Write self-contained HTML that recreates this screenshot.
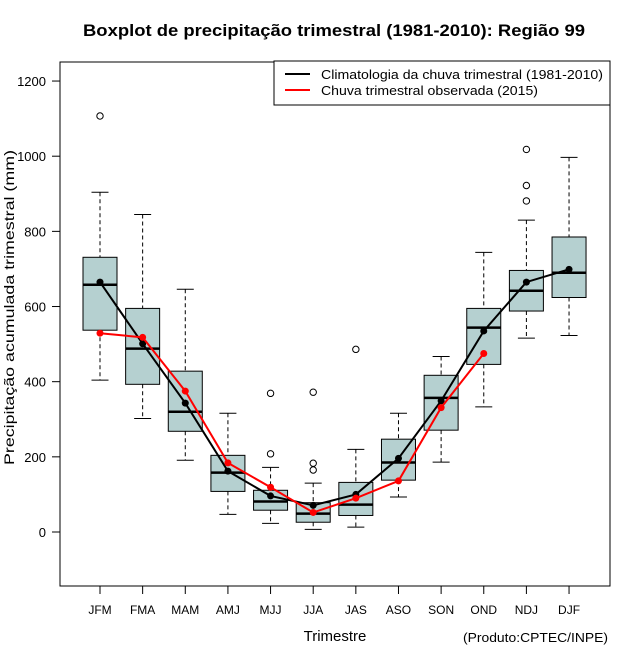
<!DOCTYPE html>
<html><head><meta charset="utf-8"><style>
body{margin:0;background:#fff;}
svg{display:block;font-family:"Liberation Sans",Arial,sans-serif;}
</style></head><body>
<svg id="chart" width="640" height="660" xmlns="http://www.w3.org/2000/svg">
<rect width="640" height="660" fill="#fff"/>
<text x="83" y="36" font-size="17" font-weight="bold" textLength="502" lengthAdjust="spacingAndGlyphs">Boxplot de precipitação trimestral (1981-2010): Região 99</text>
<rect x="60" y="62" width="550" height="524" fill="none" stroke="#000"/>
<g id="yaxis"></g>
<g id="xaxis"></g>
<g id="boxes"></g>
<g id="lines"></g>
<text x="335" y="641" text-anchor="middle" font-size="15">Trimestre</text>
<text transform="translate(14,465) rotate(-90)" font-size="14" textLength="315" lengthAdjust="spacingAndGlyphs">Precipitação acumulada trimestral (mm)</text>
<text x="463" y="642" font-size="13" textLength="145" lengthAdjust="spacingAndGlyphs">(Produto:CPTEC/INPE)</text>
<g>
<rect x="274" y="61" width="336" height="44" fill="#fff" stroke="#000"/>
<line x1="285" y1="74" x2="310" y2="74" stroke="#000" stroke-width="2"/>
<text x="321" y="79" font-size="13" textLength="282" lengthAdjust="spacingAndGlyphs">Climatologia da chuva trimestral (1981-2010)</text>
<line x1="285" y1="90" x2="310" y2="90" stroke="#f00" stroke-width="2"/>
<text x="321" y="95" font-size="13" textLength="217" lengthAdjust="spacingAndGlyphs">Chuva trimestral observada (2015)</text>
</g>
</svg>
<script>
const categories=["JFM","FMA","MAM","AMJ","MJJ","JJA","JAS","ASO","SON","OND","NDJ","DJF"];
const whiskerLow=[404,302,191,47,23,7,13,93,186,333,516,523];
const q1=[537,393,268,108,58,26,44,138,271,446,588,624];
const medians=[658,488,320,158,81,49,73,185,357,544,642,690];
const q3=[731,595,428,204,111,78,132,247,417,595,696,785];
const whiskerHigh=[904,845,646,316,172,130,220,316,467,744,830,997];
const outliers=[[1107],[],[],[],[369,208],[372,183,165],[486],[],[],[],[1018,922,881],[]];
const climMean=[665,501,343,162,96,71,100,196,349,535,665,699];
const observed=[529,518,375,184,119,52,90,136,331,475];
const yTicks=[0,200,400,600,800,1000,1200];
const NS="http://www.w3.org/2000/svg";
function xs(i){return 100+i*42.64;}
function ys(v){return 532-v*0.3758;}
function mk(tag,attrs,parent){const e=document.createElementNS(NS,tag);for(const k in attrs)e.setAttribute(k,attrs[k]);parent.appendChild(e);return e;}
const ya=document.getElementById('yaxis'),xa=document.getElementById('xaxis'),bx=document.getElementById('boxes'),ln=document.getElementById('lines');
yTicks.forEach(t=>{const y=ys(t);
const l=mk('line',{x1:52,x2:60,y1:y,y2:y,stroke:'#000'},ya);


const tx=mk('text',{x:46,y:y+5,'text-anchor':'end','font-size':13},ya);tx.textContent=t;

});
categories.forEach((c,i)=>{const x=xs(i);
const l=mk('line',{x1:x,x2:x,y1:586,y2:594,stroke:'#000'},xa);


const tx=mk('text',{x:x,y:614,'text-anchor':'middle','font-size':12},xa);tx.textContent=c;


const g=mk('g',{},bx);


mk('line',{x1:x,x2:x,y1:ys(whiskerHigh[i]),y2:ys(q3[i]),stroke:'#000','stroke-dasharray':'4,3'},g);
mk('line',{x1:x,x2:x,y1:ys(q1[i]),y2:ys(whiskerLow[i]),stroke:'#000','stroke-dasharray':'4,3'},g);
mk('line',{x1:x-8.5,x2:x+8.5,y1:ys(whiskerHigh[i]),y2:ys(whiskerHigh[i]),stroke:'#000'},g);
mk('line',{x1:x-8.5,x2:x+8.5,y1:ys(whiskerLow[i]),y2:ys(whiskerLow[i]),stroke:'#000'},g);
mk('rect',{x:x-17,y:ys(q3[i]),width:34,height:ys(q1[i])-ys(q3[i]),fill:'#b5d0d0',stroke:'#000'},g);
mk('line',{x1:x-17,x2:x+17,y1:ys(medians[i]),y2:ys(medians[i]),stroke:'#000','stroke-width':2.5},g);
outliers[i].forEach(o=>{const c2=mk('circle',{cx:x,cy:ys(o),r:3.2,fill:'none',stroke:'#000'},g);

});
});
function series(vals,color,name){
const p=mk('polyline',{points:vals.map((v,i)=>xs(i)+','+ys(v)).join(' '),fill:'none',stroke:color,'stroke-width':2},ln);


vals.forEach((v,i)=>{const c=mk('circle',{cx:xs(i),cy:ys(v),r:3.5,fill:color},ln);

});
}
series(climMean,'#000','climatology');
series(observed,'#f00','observed');
</script>
</body></html>
